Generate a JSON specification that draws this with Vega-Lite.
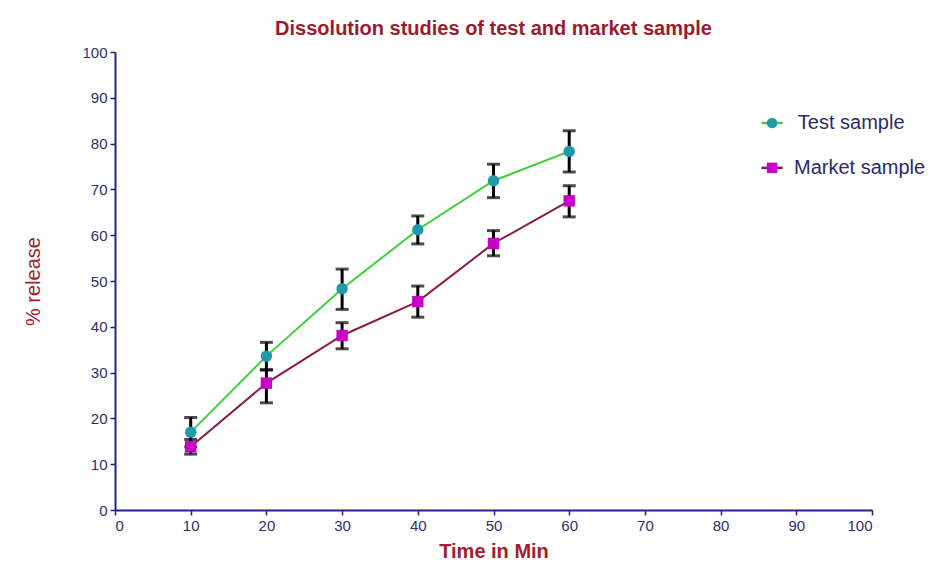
{
  "$schema": "https://vega.github.io/schema/vega-lite/v6.json",
  "autosize": "none",
  "width": 757,
  "height": 458,
  "padding": {"left": 115, "top": 52, "right": 60, "bottom": 54},
  "background": "white",
  "title": {
    "text": "Dissolution studies of test and market sample",
    "font": "Liberation Sans",
    "fontSize": 20,
    "fontWeight": "bold",
    "color": "#9b1b2e",
    "anchor": "middle",
    "offset": 6
  },
  "config": {
    "view": {"stroke": null},
    "font": "Liberation Sans",
    "axis": {
      "grid": false,
      "domainColor": "#23238a",
      "domainWidth": 2,
      "tickColor": "#23238a",
      "tickWidth": 1.5,
      "tickSize": 5,
      "labelColor": "#2e2e6e",
      "labelFont": "Liberation Sans",
      "labelFontSize": 15,
      "titleFont": "Liberation Sans",
      "titleColor": "#a3202e",
      "titleFontSize": 20
    }
  },
  "data": {
    "values": [
      {"time": 10, "series": "Test sample", "mean": 17.0, "lo": 13.8, "hi": 20.2},
      {"time": 20, "series": "Test sample", "mean": 33.6, "lo": 30.6, "hi": 36.6},
      {"time": 30, "series": "Test sample", "mean": 48.3, "lo": 43.8, "hi": 52.6},
      {"time": 40, "series": "Test sample", "mean": 61.2, "lo": 58.1, "hi": 64.2},
      {"time": 50, "series": "Test sample", "mean": 71.9, "lo": 68.2, "hi": 75.5},
      {"time": 60, "series": "Test sample", "mean": 78.3, "lo": 73.8, "hi": 82.8},
      {"time": 10, "series": "Market sample", "mean": 13.8, "lo": 12.2, "hi": 15.4},
      {"time": 20, "series": "Market sample", "mean": 27.7, "lo": 23.4, "hi": 30.6},
      {"time": 30, "series": "Market sample", "mean": 38.1, "lo": 35.2, "hi": 40.9},
      {"time": 40, "series": "Market sample", "mean": 45.5, "lo": 42.1, "hi": 48.9},
      {"time": 50, "series": "Market sample", "mean": 58.2, "lo": 55.5, "hi": 61.0},
      {"time": 60, "series": "Market sample", "mean": 67.5, "lo": 64.0, "hi": 70.8}
    ]
  },
  "layer": [
    {
      "mark": {"type": "line", "strokeWidth": 2},
      "encoding": {
        "x": {
          "field": "time",
          "type": "quantitative",
          "scale": {"domain": [0, 100], "nice": false},
          "axis": {
            "values": [0, 10, 20, 30, 40, 50, 60, 70, 80, 90, 100],
            "title": "Time in Min",
            "titleFontWeight": "bold",
            "titlePadding": 8,
            "labelPadding": 3
          }
        },
        "y": {
          "field": "mean",
          "type": "quantitative",
          "scale": {"domain": [0, 100], "nice": false},
          "axis": {
            "values": [0, 10, 20, 30, 40, 50, 60, 70, 80, 90, 100],
            "title": "% release",
            "titleFontWeight": "normal",
            "titlePadding": 38,
            "labelPadding": 3
          }
        },
        "stroke": {
          "field": "series",
          "type": "nominal",
          "scale": {"domain": ["Test sample", "Market sample"], "range": ["#3fcf3a", "#8a1c4a"]},
          "legend": null
        }
      }
    },
    {
      "mark": {"type": "rule", "color": "black", "strokeWidth": 3},
      "encoding": {
        "x": {"field": "time", "type": "quantitative"},
        "y": {"field": "lo", "type": "quantitative"},
        "y2": {"field": "hi"}
      }
    },
    {
      "mark": {"type": "tick", "color": "black", "thickness": 3, "size": 13, "orient": "horizontal"},
      "encoding": {
        "x": {"field": "time", "type": "quantitative"},
        "y": {"field": "lo", "type": "quantitative"}
      }
    },
    {
      "mark": {"type": "tick", "color": "black", "thickness": 3, "size": 13, "orient": "horizontal"},
      "encoding": {
        "x": {"field": "time", "type": "quantitative"},
        "y": {"field": "hi", "type": "quantitative"}
      }
    },
    {
      "mark": {"type": "point", "filled": true, "size": 130, "opacity": 1},
      "encoding": {
        "x": {"field": "time", "type": "quantitative"},
        "y": {"field": "mean", "type": "quantitative"},
        "color": {
          "field": "series",
          "type": "nominal",
          "scale": {"domain": ["Test sample", "Market sample"], "range": ["#1e9aa8", "#c800c8"]},
          "legend": null
        },
        "shape": {
          "field": "series",
          "type": "nominal",
          "scale": {"domain": ["Test sample", "Market sample"], "range": ["circle", "square"]},
          "legend": null
        }
      }
    },
    {
      "data": {"values": [{"series": "Test sample"}]},
      "mark": {"type": "rule", "color": "#3fcf3a", "strokeWidth": 2.5},
      "encoding": {"x": {"datum": 85.4, "type": "quantitative"}, "x2": {"datum": 88.2}, "y": {"datum": 84.5, "type": "quantitative"}}
    },
    {
      "data": {"values": [{"series": "Market sample"}]},
      "mark": {"type": "rule", "color": "#8a1c4a", "strokeWidth": 2.5},
      "encoding": {"x": {"datum": 85.4, "type": "quantitative"}, "x2": {"datum": 88.2}, "y": {"datum": 74.7, "type": "quantitative"}}
    },
    {
      "data": {"values": [{"series": "Test sample"}]},
      "mark": {"type": "point", "shape": "circle", "filled": true, "size": 110, "color": "#1e9aa8", "opacity": 1},
      "encoding": {"x": {"datum": 86.8, "type": "quantitative"}, "y": {"datum": 84.5, "type": "quantitative"}}
    },
    {
      "data": {"values": [{"series": "Market sample"}]},
      "mark": {"type": "point", "shape": "square", "filled": true, "size": 110, "color": "#c800c8", "opacity": 1},
      "encoding": {"x": {"datum": 86.8, "type": "quantitative"}, "y": {"datum": 74.7, "type": "quantitative"}}
    },
    {
      "data": {"values": [{"series": "Test sample"}]},
      "mark": {"type": "text", "align": "left", "baseline": "middle", "font": "Liberation Sans", "fontSize": 20, "color": "#2a2a6a"},
      "encoding": {"x": {"datum": 90.2, "type": "quantitative"}, "y": {"datum": 84.5, "type": "quantitative"}, "text": {"field": "series"}}
    },
    {
      "data": {"values": [{"series": "Market sample"}]},
      "mark": {"type": "text", "align": "left", "baseline": "middle", "font": "Liberation Sans", "fontSize": 20, "color": "#2a2a6a"},
      "encoding": {"x": {"datum": 89.7, "type": "quantitative"}, "y": {"datum": 74.7, "type": "quantitative"}, "text": {"field": "series"}}
    }
  ]
}
